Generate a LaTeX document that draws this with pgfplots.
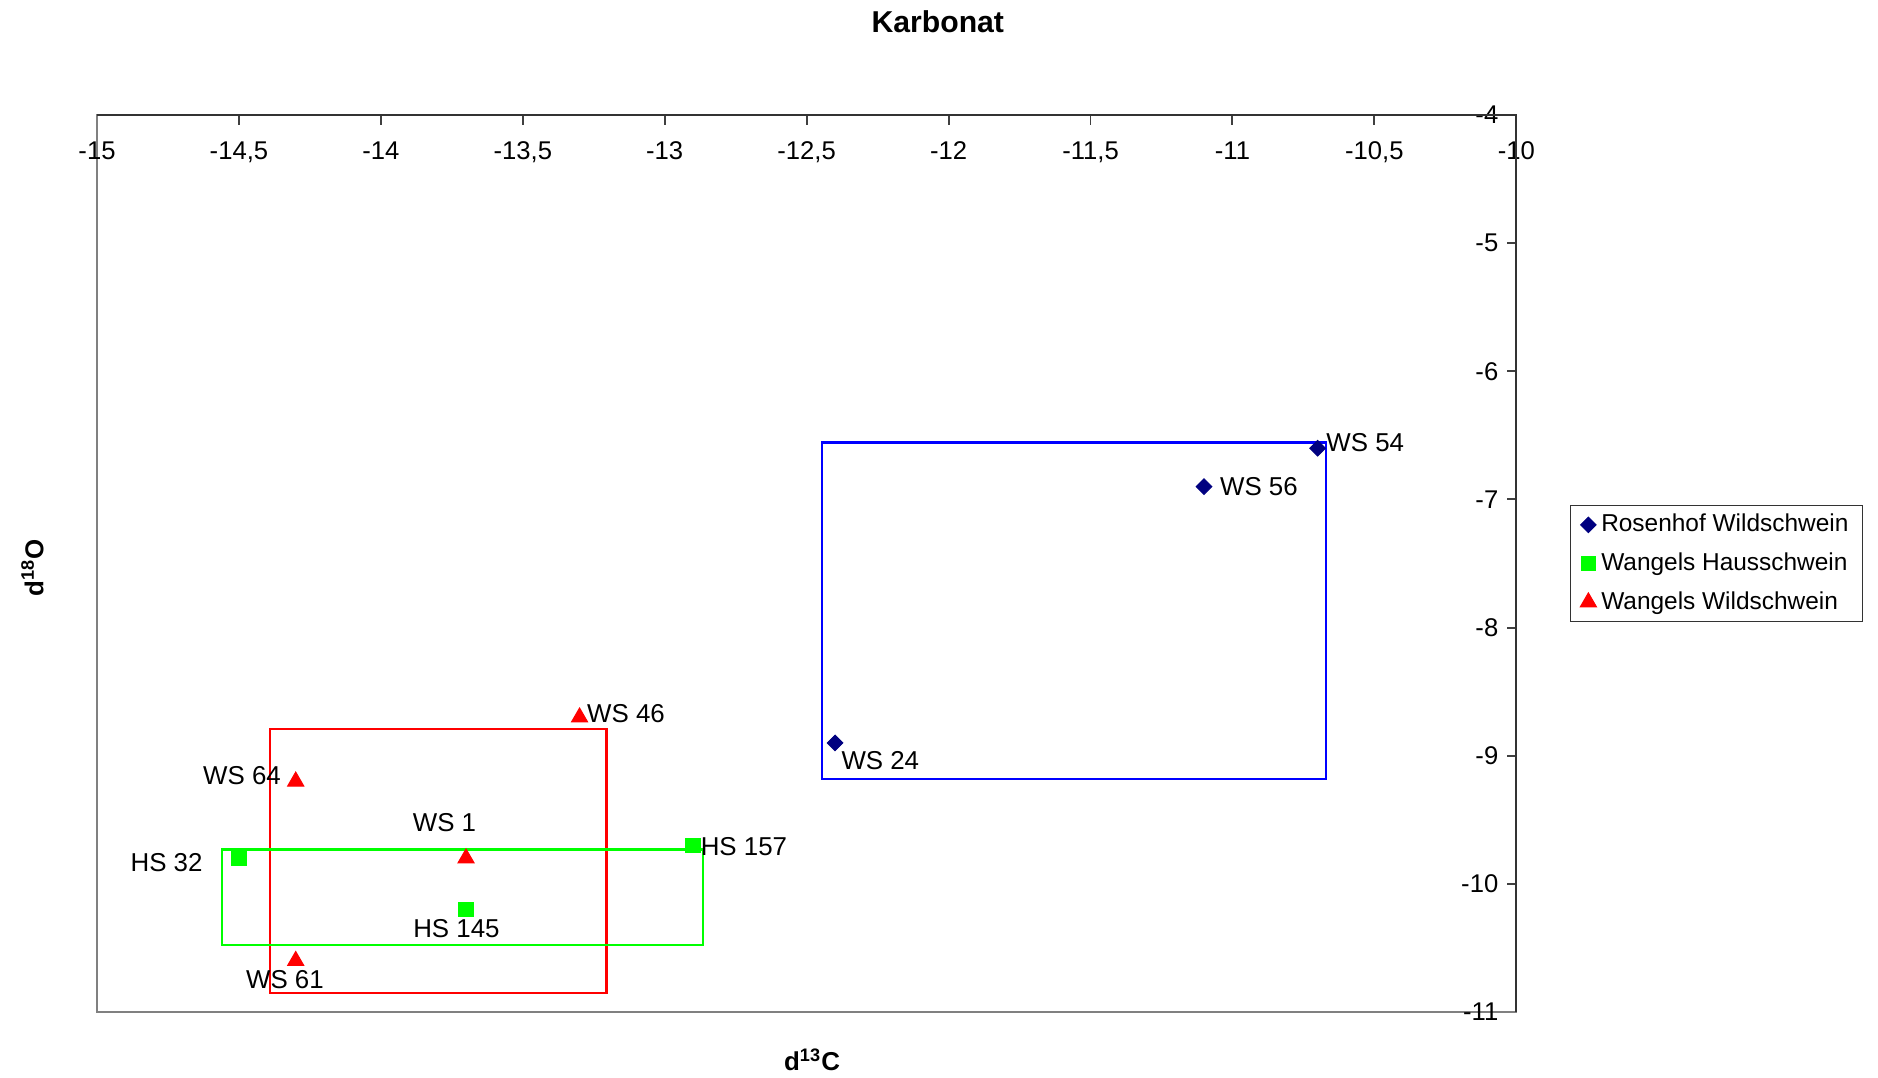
\documentclass[border=0pt]{standalone}
\usepackage{fontspec}
\setmainfont{Liberation Sans}
\usepackage{pgfplots}
\pgfplotsset{compat=1.18}
\definecolor{navyc}{RGB}{0,0,128}
\definecolor{greenc}{RGB}{0,255,0}
\definecolor{redc}{RGB}{255,0,0}
\definecolor{bluec}{RGB}{0,0,255}
\newcommand{\lbl}{\fontsize{10.8}{13}\selectfont}
\begin{document}
\begin{tikzpicture}
\path (0,0) rectangle (784pt,450pt);
\begin{axis}[
  at={(40.5pt,27.5pt)}, anchor=south west,
  width=592.5pt, height=374.5pt, scale only axis,
  xmin=-15, xmax=-10, ymin=-11, ymax=-4,
  xtick={-15,-14.5,-14,-13.5,-13,-12.5,-12,-11.5,-11,-10.5,-10},
  ytick={-11,-10,-9,-8,-7,-6,-5,-4},
  xtick pos=upper, xticklabel pos=upper, ytick pos=right, yticklabel pos=right,
  tick align=inside, major tick length=4pt,
  xticklabel style={anchor=north, yshift=-7.5pt},
  yticklabel style={anchor=east, xshift=-4pt},
  axis line style={draw=gray, line width=0.8pt},
  tick style={black!75, line width=0.8pt},
  /pgf/number format/assume math mode=true,
  /pgf/number format/use comma,
  /pgf/number format/1000 sep={},
  tick label style={font=\fontsize{10.7}{13}\selectfont},
  legend style={at={(1.038,0.5)}, anchor=west, draw=black!80, font=\fontsize{10.2}{12}\selectfont, inner xsep=4pt, inner ysep=1.75pt, row sep=3.25pt, cells={anchor=west}},
  legend image code/.code={\draw[mark repeat=2,mark phase=2,#1] plot coordinates {(0pt,0pt)(9pt,0pt)(14pt,0pt)};},
  clip=false,
]
\addplot[only marks, mark=square*, mark size=2.3pt, color=navyc, mark options={rotate=45}] coordinates {(-10.7,-6.6) (-11.1,-6.9) (-12.4,-8.9)};
\addlegendentry{Rosenhof Wildschwein}
\addplot[only marks, mark=square*, mark size=3pt, color=greenc] coordinates {(-14.5,-9.8) (-12.9,-9.7) (-13.7,-10.2)};
\addlegendentry{Wangels Hausschwein}
\addplot[only marks, mark=triangle*, mark size=3.9pt, color=redc] coordinates {(-13.3,-8.7) (-14.3,-9.2) (-13.7,-9.8) (-14.3,-10.6)};
\addlegendentry{Wangels Wildschwein}

\addplot[bluec, line width=0.9pt, mark=none, forget plot] coordinates {(-12.445,-6.556) (-10.669,-6.556) (-10.669,-9.179) (-12.445,-9.179)} --cycle;
\addplot[redc, line width=0.9pt, mark=none, forget plot] coordinates {(-14.39,-8.79) (-13.205,-8.79) (-13.205,-10.854) (-14.39,-10.854)} --cycle;
\addplot[greenc, line width=0.9pt, mark=none, forget plot] coordinates {(-14.56,-9.731) (-12.865,-9.731) (-12.865,-10.479) (-14.56,-10.479)} --cycle;

\draw[black!80, line width=0.9pt] (rel axis cs:0,1) -- (rel axis cs:1,1) -- (rel axis cs:1,0);

\node[anchor=west, inner sep=0, xshift=3.5pt, yshift=2.5pt, font=\lbl] at (axis cs:-10.7,-6.6) {WS 54};
\node[anchor=west, inner sep=0, xshift=6.5pt, yshift=0pt, font=\lbl] at (axis cs:-11.1,-6.9) {WS 56};
\node[anchor=west, inner sep=0, xshift=2.5pt, yshift=-7.5pt, font=\lbl] at (axis cs:-12.4,-8.9) {WS 24};
\node[anchor=west, inner sep=0, xshift=3pt, yshift=1.5pt, font=\lbl] at (axis cs:-13.3,-8.7) {WS 46};
\node[anchor=east, inner sep=0, xshift=-6pt, yshift=2.5pt, font=\lbl] at (axis cs:-14.3,-9.2) {WS 64};
\node[anchor=center, inner sep=0, xshift=-9pt, yshift=15pt, font=\lbl] at (axis cs:-13.7,-9.8) {WS 1};
\node[anchor=east, inner sep=0, xshift=-15pt, yshift=-2pt, font=\lbl] at (axis cs:-14.5,-9.8) {HS 32};
\node[anchor=west, inner sep=0, xshift=3pt, yshift=-0.5pt, font=\lbl] at (axis cs:-12.9,-9.7) {HS 157};
\node[anchor=center, inner sep=0, xshift=-4pt, yshift=-8pt, font=\lbl] at (axis cs:-13.7,-10.2) {HS 145};
\node[anchor=center, inner sep=0, xshift=-4.5pt, yshift=-8pt, font=\lbl] at (axis cs:-14.3,-10.6) {WS 61};
\end{axis}
\node[inner sep=0, font=\bfseries\fontsize{12.6}{15}\selectfont] at (391.5pt,441pt) {Karbonat};
\node[inner sep=0, font=\bfseries\fontsize{10.8}{13}\selectfont] at (339pt,7.5pt) {d\textsuperscript{13}C};
\node[inner sep=0, rotate=90, font=\bfseries\fontsize{10.8}{13}\selectfont] at (13.5pt,213pt) {d\textsuperscript{18}O};
\end{tikzpicture}
\end{document}
